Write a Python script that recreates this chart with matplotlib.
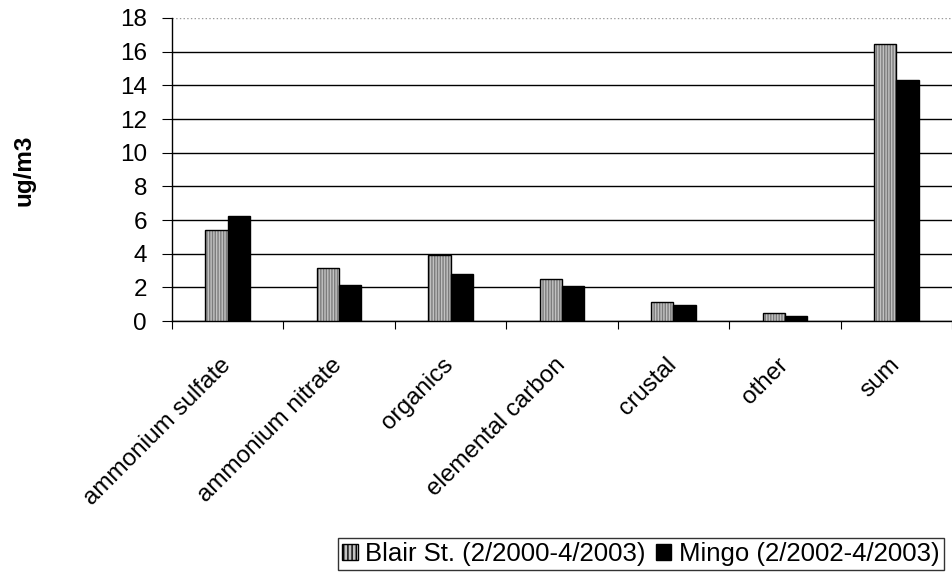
import numpy as np
import matplotlib
matplotlib.use('Agg')
import matplotlib.pyplot as plt
import matplotlib.transforms as mtransforms
from matplotlib.patches import Patch

plt.rcParams['font.family'] = ['Liberation Sans', 'DejaVu Sans']

categories = ['ammonium sulfate', 'ammonium nitrate', 'organics', 'elemental carbon',
              'crustal', 'other', 'sum']
blair = [5.4, 3.15, 3.95, 2.5, 1.15, 0.45, 16.45]
mingo = [6.25, 2.15, 2.8, 2.1, 0.95, 0.3, 14.3]
series_names = ['Blair St. (2/2000-4/2003)', 'Mingo (2/2002-4/2003)']
yticks = list(range(0, 20, 2))

fs = 17.5

fig = plt.figure(figsize=(9.53, 5.85), dpi=100)
ax = fig.add_axes([172 / 953, 1 - 321 / 585, 780 / 953, 303 / 585])

x = np.arange(len(categories)) + 0.5
w = 0.2

# gray stippled bars: fill + hatch, then a black outline on top
ax.bar(x - w / 2, blair, w, color='#c2c2c2', edgecolor='#7c7c7c', hatch='||||||',
       linewidth=0, zorder=3)
ax.bar(x - w / 2, blair, w, fill=False, edgecolor='black', linewidth=1, zorder=4)
ax.bar(x + w / 2, mingo, w, color='black', edgecolor='black', linewidth=1, zorder=3)

ax.set_xlim(0, len(categories))
ax.set_ylim(0, 18)
ax.set_yticks(yticks)
ax.set_yticklabels([str(t) for t in yticks], fontsize=fs)
ax.yaxis.grid(True, color='black', linewidth=1)
top_line = ax.get_ygridlines()[-1]
top_line.set_color('#999999')
top_line.set_linestyle(':')
ax.set_axisbelow(True)

ax.set_xticks(np.arange(len(categories) + 1))
ax.set_xticklabels([])
ax.set_xticks(x, minor=True)
ax.set_xticklabels(categories, minor=True, rotation=45, ha='right',
                   rotation_mode='anchor', fontsize=fs)
ax.tick_params(axis='x', which='minor', length=0, pad=10)
ax.tick_params(axis='x', which='major', length=6, direction='out')
ax.tick_params(axis='y', length=7, direction='out', pad=11)

# nudge the slanted labels down-left a little, as in the original
shift = mtransforms.ScaledTranslation(-0.08, -0.19, fig.dpi_scale_trans)
for lab in ax.get_xticklabels(minor=True):
    lab.set_transform(lab.get_transform() + shift)

for side in ['top', 'right']:
    ax.spines[side].set_visible(False)
ax.spines['left'].set_linewidth(1)
ax.spines['bottom'].set_linewidth(1)

fig.text(24 / 953, 1 - 170 / 585, 'ug/m3', rotation=90, fontsize=fs,
         fontweight='bold', ha='center', va='center')

handles = [Patch(facecolor='#c2c2c2', edgecolor='black', hatch='||||'),
           Patch(facecolor='black', edgecolor='black')]
leg = fig.legend(handles, series_names, loc='center', ncol=2,
                 bbox_to_anchor=(641 / 953, 1 - 554 / 585), fontsize=18.5,
                 frameon=True, fancybox=False, handlelength=0.6, handleheight=0.6,
                 handletextpad=0.3, columnspacing=0.4, borderpad=0.15,
                 borderaxespad=0)
leg.get_frame().set_edgecolor('black')
leg.get_frame().set_linewidth(1)

fig.savefig('out.png', dpi=100)
